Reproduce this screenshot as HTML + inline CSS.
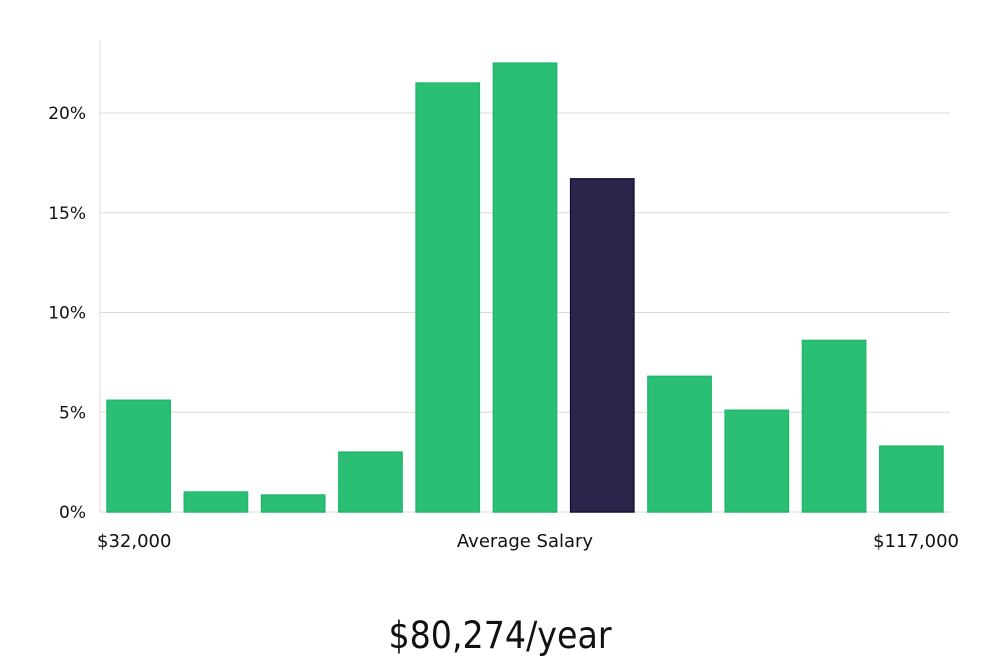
<!DOCTYPE html>
<html><head><meta charset="utf-8"><style>
body{margin:0;background:#fff;width:1000px;height:660px;overflow:hidden}
svg text{font-family:"DejaVu Sans","Liberation Sans",sans-serif;fill:#111}
</style></head><body>
<svg id="chart" width="1000" height="660" xmlns="http://www.w3.org/2000/svg"></svg>
<script>
const categories=["b1","b2","b3","b4","b5","b6","b7","b8","b9","b10","b11"];
const values=[5.6,1.0,0.85,3.0,21.5,22.5,16.7,6.8,5.1,8.6,3.3];
const highlight=[false,false,false,false,false,false,true,false,false,false,false];
const yTicks=[0,5,10,15,20];
const yTickLabels=["0%","5%","10%","15%","20%"];
const svg=document.getElementById('chart');
const NS="http://www.w3.org/2000/svg";
const x0=100,x1=950,yBase=512,pxPer=19.95;
const y=v=>yBase-v*pxPer;
const band=(x1-x0)/categories.length;
const x=i=>x0+i*band;
function mk(t,a){const e=document.createElementNS(NS,t);for(const k in a)e.setAttribute(k,a[k]);svg.appendChild(e);return e;}
yTicks.forEach((t,i)=>{
  const l=mk('line',{x1:x0,x2:x1,y1:y(t),y2:y(t),stroke:'#dcdcdc','stroke-width':1});
  
  
  const tx=mk('text',{x:86,y:y(t)+6,'text-anchor':'end','font-size':17});
  tx.textContent=yTickLabels[i];
  
  
});
const ax=mk('line',{x1:x0,x2:x0,y1:40,y2:yBase,stroke:'#dcdcdc','stroke-width':1});


values.forEach((v,i)=>{
  const r=mk('rect',{x:x(i)+7,y:y(v),width:band-14,height:yBase-y(v),fill:highlight[i]?'#2a2649':'#2bbf76',stroke:highlight[i]?'#15123a':'#22b86c','stroke-width':1.5});
  
  
});
function label(txt,xx,yy,anchor,size,name,fam){const t=mk('text',{x:xx,y:yy,'text-anchor':anchor,'font-size':size});if(fam)t.style.fontFamily=fam;t.textContent=txt;return t;}
label('$32,000',97,547,'start',18,'x-min-label');
label('Average Salary',525,547,'middle',18,'x-axis-title');
label('$117,000',959,547,'end',18,'x-max-label');
const s=label('$80,274/year',500,648,'middle',37,'average-salary-value','"Liberation Sans Narrow","DejaVu Sans Condensed","Liberation Sans",sans-serif');
</script>
</body></html>
